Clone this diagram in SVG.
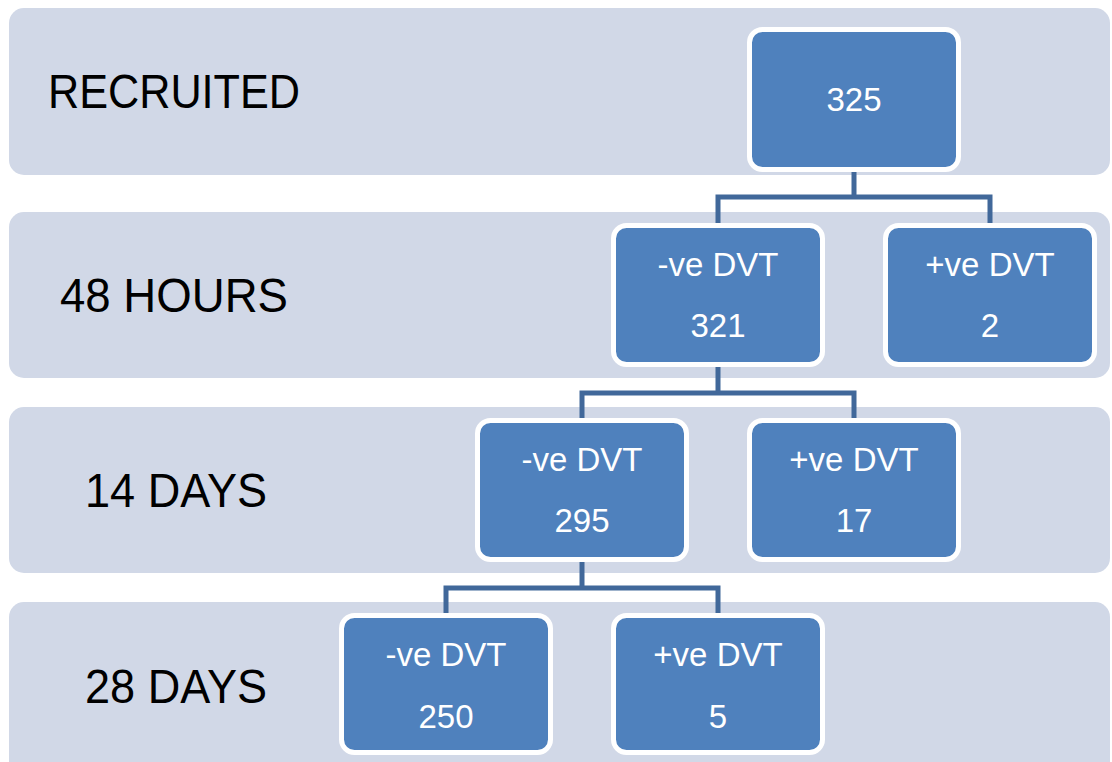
<svg xmlns="http://www.w3.org/2000/svg" width="1112" height="762" viewBox="0 0 1112 762">
<style>
.band{fill:#D1D8E7}
.lbl{font-family:"Liberation Sans",Arial,sans-serif;font-size:48px;fill:#000}
.box{fill:#4F81BD;stroke:#FFFFFF;stroke-width:5}
.bt{font-family:"Liberation Sans",Arial,sans-serif;font-size:33px;fill:#FFFFFF;text-anchor:middle}
.con{fill:none;stroke:#41689A;stroke-width:5;stroke-linejoin:miter}
</style>
<rect width="1112" height="762" fill="#FFFFFF"/>
<g id="bands">
<rect class="band" x="9" y="8" width="1101" height="167" rx="15"/>
<rect class="band" x="9" y="212" width="1101" height="166" rx="15"/>
<rect class="band" x="9" y="407" width="1101" height="166" rx="15"/>
<rect class="band" x="9" y="602" width="1101" height="180" rx="15"/>
<text class="lbl" x="48" y="108" textLength="252" lengthAdjust="spacingAndGlyphs">RECRUITED</text>
<text class="lbl" x="60" y="312" textLength="228" lengthAdjust="spacingAndGlyphs">48 HOURS</text>
<text class="lbl" x="85" y="507" textLength="182" lengthAdjust="spacingAndGlyphs">14 DAYS</text>
<text class="lbl" x="85" y="703" textLength="182" lengthAdjust="spacingAndGlyphs">28 DAYS</text>
</g>
<g id="connectors">
<path class="con" d="M854,170 V197 M718,226 V197 H990 V226"/>
<path class="con" d="M718,365 V393 M582,421 V393 H854 V421"/>
<path class="con" d="M582,560 V588 M446,616 V588 H718 V616"/>
</g>
<g id="n325">
<rect class="box" x="749.5" y="29.5" width="209" height="140" rx="13"/>
<text class="bt" x="854" y="111">325</text>
</g>
<g id="n321">
<rect class="box" x="613.5" y="225.5" width="209" height="139" rx="13"/>
<text class="bt" x="718" y="276">-ve DVT</text>
<text class="bt" x="718" y="337">321</text>
</g>
<g id="n2">
<rect class="box" x="885.5" y="225.5" width="209" height="139" rx="13"/>
<text class="bt" x="990" y="276">+ve DVT</text>
<text class="bt" x="990" y="337">2</text>
</g>
<g id="n295">
<rect class="box" x="477.5" y="420.5" width="209" height="139" rx="13"/>
<text class="bt" x="582" y="471">-ve DVT</text>
<text class="bt" x="582" y="532">295</text>
</g>
<g id="n17">
<rect class="box" x="749.5" y="420.5" width="209" height="139" rx="13"/>
<text class="bt" x="854" y="471">+ve DVT</text>
<text class="bt" x="854" y="532">17</text>
</g>
<g id="n250">
<rect class="box" x="341.5" y="615.5" width="209" height="137" rx="13"/>
<text class="bt" x="446" y="666">-ve DVT</text>
<text class="bt" x="446" y="728">250</text>
</g>
<g id="n5">
<rect class="box" x="613.5" y="615.5" width="209" height="137" rx="13"/>
<text class="bt" x="718" y="666">+ve DVT</text>
<text class="bt" x="718" y="728">5</text>
</g>
</svg>
